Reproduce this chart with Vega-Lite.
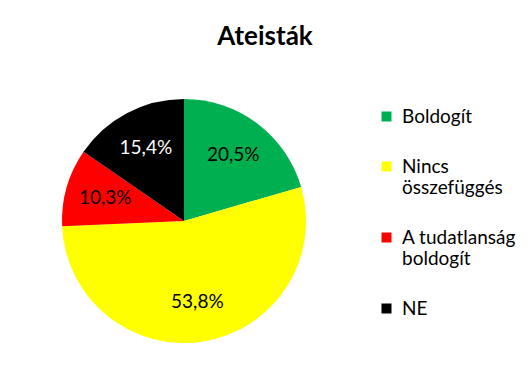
{
  "$schema": "https://vega.github.io/schema/vega-lite/v6.json",
  "autosize": "none",
  "padding": {"left": 62, "top": 99, "right": 225, "bottom": 44},
  "width": 244,
  "height": 244,
  "background": "white",
  "title": {
    "text": "Ateisták",
    "font": "Lato",
    "fontSize": 26,
    "fontWeight": "bold",
    "color": "black",
    "anchor": "middle",
    "offset": 49,
    "dx": 81
  },
  "config": {
    "view": {"stroke": null},
    "locale": {"number": {"decimal": ",", "thousands": " ", "grouping": [3], "currency": ["", ""]}}
  },
  "data": {
    "values": [
      {"cat": "Boldogít", "value": 0.205, "i": 1},
      {"cat": "Nincs összefüggés", "value": 0.538, "i": 2},
      {"cat": "A tudatlanság boldogít", "value": 0.103, "i": 3},
      {"cat": "NE", "value": 0.154, "i": 4}
    ]
  },
  "encoding": {
    "theta": {"field": "value", "type": "quantitative", "stack": true},
    "order": {"field": "i", "type": "quantitative"}
  },
  "layer": [
    {
      "mark": {"type": "arc"},
      "encoding": {
        "color": {
          "field": "cat",
          "type": "nominal",
          "scale": {
            "domain": ["Boldogít", "Nincs összefüggés", "A tudatlanság boldogít", "NE"],
            "range": ["#00B050", "#FFFF00", "#FF0000", "#000000"]
          },
          "legend": {
            "title": null,
            "orient": "none",
            "legendX": 315,
            "legendY": 8,
            "padding": 0,
            "symbolType": "square",
            "symbolSize": 100,
            "symbolStrokeWidth": 0,
            "labelFont": "Lato",
            "labelFontSize": 19,
            "labelColor": "black",
            "labelOffset": 6,
            "labelLimit": 300,
            "rowPadding": 30,
            "labelExpr": "datum.label == 'Nincs összefüggés' ? ['Nincs', 'összefüggés'] : datum.label == 'A tudatlanság boldogít' ? ['A tudatlanság', 'boldogít'] : datum.label"
          }
        }
      }
    },
    {
      "mark": {"type": "text", "radius": 82, "font": "Lato", "fontSize": 19},
      "encoding": {
        "text": {"field": "value", "type": "quantitative", "format": ".1%"},
        "color": {
          "condition": {"test": "datum.cat === 'NE'", "value": "white"},
          "value": "black"
        }
      }
    }
  ]
}
